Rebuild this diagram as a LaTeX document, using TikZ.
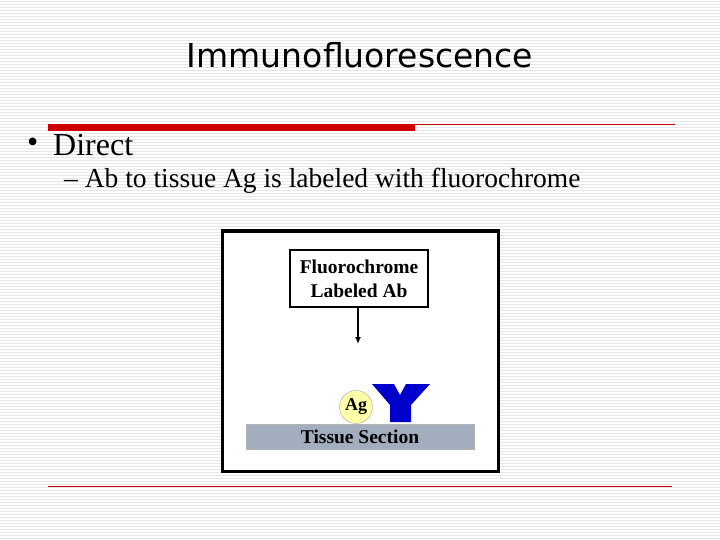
\documentclass[tikz,border=0pt]{standalone}
\usepackage{fontspec}
\usetikzlibrary{arrows.meta}
\setmainfont{Liberation Serif}
\newfontfamily\titlefont{DejaVu Sans}
\definecolor{stripe}{RGB}{230,230,230}
\definecolor{slidered}{RGB}{204,0,0}
\definecolor{agfill}{RGB}{255,255,170}
\definecolor{tissue}{RGB}{162,174,190}
\definecolor{ablue}{RGB}{0,0,204}
\tikzset{
  labelbox/.style={draw,line width=2pt,fill=white,minimum width=138pt,minimum height=57pt,align=center,font=\bfseries\fontsize{19.5}{24}\selectfont,inner sep=0pt},
}
\begin{document}
\begin{tikzpicture}[x=1pt,y=-1pt]
\useasboundingbox (0,0) rectangle (720,540);
\fill[white] (0,0) rectangle (720,540);
\foreach \i in {0,...,179} {\draw[stripe,line width=0.8pt] (0,\i*3+1) -- (720,\i*3+1);}
\node[font=\titlefont\fontsize{33}{36}\selectfont] (title) at (360,55) {Immunofluorescence};
\fill[slidered] (48,124) rectangle (415,131);
\draw[slidered,line width=0.7pt] (415,124) -- (675,124);
\node[anchor=west,font=\fontsize{32}{36}\selectfont,inner sep=0pt] (b0) at (27,145) {•};
\node[anchor=west,font=\fontsize{32}{36}\selectfont,inner sep=0pt] (b1) at (53,145) {Direct};
\node[anchor=west,font=\fontsize{27.5}{30}\selectfont,inner sep=0pt] (b2) at (64,181) {– Ab to tissue Ag is labeled with fluorochrome};
\draw[line width=3pt,fill=white] (222,231) rectangle (498,471);
\node[labelbox] (lab) at (359,278.5) {Fluorochrome\\Labeled Ab};
\coordinate (tip) at (358,344);
\draw[line width=1.5pt,-{Latex[length=7pt,width=6pt]}] (lab.south -| tip) -- (tip);
\node[draw=gray!60,fill=tissue,minimum width=228pt,minimum height=25pt,inner sep=0pt,font=\bfseries\fontsize{19.5}{22}\selectfont] (ts) at (360,436.5) {Tissue Section};
\node[circle,draw=gray!70,fill=agfill,minimum size=33pt,inner sep=0pt,font=\bfseries\fontsize{18}{20}\selectfont] (ag) at (356,407) {Ag};
\fill[ablue] (372,384) -- (394,384) -- (400,395) -- (406,384) -- (430,384) -- (411,405) -- (411,422) -- (390,422) -- (390,405) -- cycle;
\draw[slidered,line width=0.7pt] (48,486) -- (672,486);
\end{tikzpicture}
\end{document}
